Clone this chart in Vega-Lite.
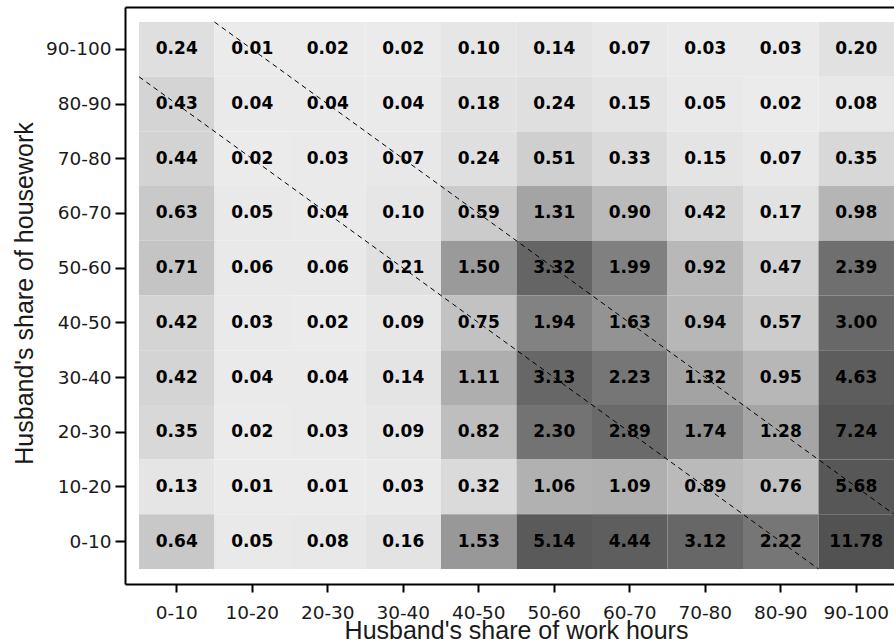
{
  "$schema": "https://vega.github.io/schema/vega-lite/v6.json",
  "autosize": "none",
  "width": 769,
  "height": 577,
  "padding": {"left": 125, "top": 7, "right": 0, "bottom": 60},
  "background": "white",
  "config": {"view": {"stroke": null}},
  "datasets": {
    "cells": [
      {"work": "0-10", "house": "90-100", "v": 0.24}, {"work": "10-20", "house": "90-100", "v": 0.01}, {"work": "20-30", "house": "90-100", "v": 0.02}, {"work": "30-40", "house": "90-100", "v": 0.02}, {"work": "40-50", "house": "90-100", "v": 0.10}, {"work": "50-60", "house": "90-100", "v": 0.14}, {"work": "60-70", "house": "90-100", "v": 0.07}, {"work": "70-80", "house": "90-100", "v": 0.03}, {"work": "80-90", "house": "90-100", "v": 0.03}, {"work": "90-100", "house": "90-100", "v": 0.20},
      {"work": "0-10", "house": "80-90", "v": 0.43}, {"work": "10-20", "house": "80-90", "v": 0.04}, {"work": "20-30", "house": "80-90", "v": 0.04}, {"work": "30-40", "house": "80-90", "v": 0.04}, {"work": "40-50", "house": "80-90", "v": 0.18}, {"work": "50-60", "house": "80-90", "v": 0.24}, {"work": "60-70", "house": "80-90", "v": 0.15}, {"work": "70-80", "house": "80-90", "v": 0.05}, {"work": "80-90", "house": "80-90", "v": 0.02}, {"work": "90-100", "house": "80-90", "v": 0.08},
      {"work": "0-10", "house": "70-80", "v": 0.44}, {"work": "10-20", "house": "70-80", "v": 0.02}, {"work": "20-30", "house": "70-80", "v": 0.03}, {"work": "30-40", "house": "70-80", "v": 0.07}, {"work": "40-50", "house": "70-80", "v": 0.24}, {"work": "50-60", "house": "70-80", "v": 0.51}, {"work": "60-70", "house": "70-80", "v": 0.33}, {"work": "70-80", "house": "70-80", "v": 0.15}, {"work": "80-90", "house": "70-80", "v": 0.07}, {"work": "90-100", "house": "70-80", "v": 0.35},
      {"work": "0-10", "house": "60-70", "v": 0.63}, {"work": "10-20", "house": "60-70", "v": 0.05}, {"work": "20-30", "house": "60-70", "v": 0.04}, {"work": "30-40", "house": "60-70", "v": 0.10}, {"work": "40-50", "house": "60-70", "v": 0.59}, {"work": "50-60", "house": "60-70", "v": 1.31}, {"work": "60-70", "house": "60-70", "v": 0.90}, {"work": "70-80", "house": "60-70", "v": 0.42}, {"work": "80-90", "house": "60-70", "v": 0.17}, {"work": "90-100", "house": "60-70", "v": 0.98},
      {"work": "0-10", "house": "50-60", "v": 0.71}, {"work": "10-20", "house": "50-60", "v": 0.06}, {"work": "20-30", "house": "50-60", "v": 0.06}, {"work": "30-40", "house": "50-60", "v": 0.21}, {"work": "40-50", "house": "50-60", "v": 1.50}, {"work": "50-60", "house": "50-60", "v": 3.32}, {"work": "60-70", "house": "50-60", "v": 1.99}, {"work": "70-80", "house": "50-60", "v": 0.92}, {"work": "80-90", "house": "50-60", "v": 0.47}, {"work": "90-100", "house": "50-60", "v": 2.39},
      {"work": "0-10", "house": "40-50", "v": 0.42}, {"work": "10-20", "house": "40-50", "v": 0.03}, {"work": "20-30", "house": "40-50", "v": 0.02}, {"work": "30-40", "house": "40-50", "v": 0.09}, {"work": "40-50", "house": "40-50", "v": 0.75}, {"work": "50-60", "house": "40-50", "v": 1.94}, {"work": "60-70", "house": "40-50", "v": 1.63}, {"work": "70-80", "house": "40-50", "v": 0.94}, {"work": "80-90", "house": "40-50", "v": 0.57}, {"work": "90-100", "house": "40-50", "v": 3.00},
      {"work": "0-10", "house": "30-40", "v": 0.42}, {"work": "10-20", "house": "30-40", "v": 0.04}, {"work": "20-30", "house": "30-40", "v": 0.04}, {"work": "30-40", "house": "30-40", "v": 0.14}, {"work": "40-50", "house": "30-40", "v": 1.11}, {"work": "50-60", "house": "30-40", "v": 3.13}, {"work": "60-70", "house": "30-40", "v": 2.23}, {"work": "70-80", "house": "30-40", "v": 1.32}, {"work": "80-90", "house": "30-40", "v": 0.95}, {"work": "90-100", "house": "30-40", "v": 4.63},
      {"work": "0-10", "house": "20-30", "v": 0.35}, {"work": "10-20", "house": "20-30", "v": 0.02}, {"work": "20-30", "house": "20-30", "v": 0.03}, {"work": "30-40", "house": "20-30", "v": 0.09}, {"work": "40-50", "house": "20-30", "v": 0.82}, {"work": "50-60", "house": "20-30", "v": 2.30}, {"work": "60-70", "house": "20-30", "v": 2.89}, {"work": "70-80", "house": "20-30", "v": 1.74}, {"work": "80-90", "house": "20-30", "v": 1.28}, {"work": "90-100", "house": "20-30", "v": 7.24},
      {"work": "0-10", "house": "10-20", "v": 0.13}, {"work": "10-20", "house": "10-20", "v": 0.01}, {"work": "20-30", "house": "10-20", "v": 0.01}, {"work": "30-40", "house": "10-20", "v": 0.03}, {"work": "40-50", "house": "10-20", "v": 0.32}, {"work": "50-60", "house": "10-20", "v": 1.06}, {"work": "60-70", "house": "10-20", "v": 1.09}, {"work": "70-80", "house": "10-20", "v": 0.89}, {"work": "80-90", "house": "10-20", "v": 0.76}, {"work": "90-100", "house": "10-20", "v": 5.68},
      {"work": "0-10", "house": "0-10", "v": 0.64}, {"work": "10-20", "house": "0-10", "v": 0.05}, {"work": "20-30", "house": "0-10", "v": 0.08}, {"work": "30-40", "house": "0-10", "v": 0.16}, {"work": "40-50", "house": "0-10", "v": 1.53}, {"work": "50-60", "house": "0-10", "v": 5.14}, {"work": "60-70", "house": "0-10", "v": 4.44}, {"work": "70-80", "house": "0-10", "v": 3.12}, {"work": "80-90", "house": "0-10", "v": 2.22}, {"work": "90-100", "house": "0-10", "v": 11.78}
    ],
    "diag": [
      {"line": "A", "px": 0, "py": 90},
      {"line": "A", "px": 90, "py": 0},
      {"line": "B", "px": 10, "py": 100},
      {"line": "B", "px": 100, "py": 10}
    ]
  },
  "layer": [
    {
      "data": {"name": "cells"},
      "encoding": {
        "x": {
          "field": "work", "type": "ordinal",
          "scale": {"domain": ["0-10","10-20","20-30","30-40","40-50","50-60","60-70","70-80","80-90","90-100"], "paddingInner": 0, "paddingOuter": 0.09272, "align": 1},
          "axis": {
            "title": "Husband's share of work hours", "labelAngle": 0,
            "domainColor": "black", "domainWidth": 2, "tickColor": "black", "tickWidth": 2, "tickSize": 8,
            "labelFont": "DejaVu Sans", "labelFontSize": 18.5, "labelColor": "#1a1a1a", "labelPadding": 11,
            "titleFont": "Liberation Sans", "titleFontSize": 25, "titleFontWeight": "normal", "titleColor": "#1a1a1a",
            "titleBaseline": "alphabetic", "titleX": 391, "titleY": 54
          }
        },
        "y": {
          "field": "house", "type": "ordinal",
          "scale": {"domain": ["90-100","80-90","70-80","60-70","50-60","40-50","30-40","20-30","10-20","0-10"], "paddingInner": 0, "paddingOuter": 0.275},
          "axis": {
            "title": "Husband's share of housework",
            "domainColor": "black", "domainWidth": 2, "tickColor": "black", "tickWidth": 2, "tickSize": 10,
            "labelFont": "DejaVu Sans", "labelFontSize": 18.5, "labelColor": "#1a1a1a", "labelPadding": 4,
            "titleFont": "Liberation Sans", "titleFontSize": 25, "titleFontWeight": "normal", "titleColor": "#1a1a1a",
            "titleBaseline": "alphabetic", "titleX": -93, "titleY": 286
          }
        }
      },
      "layer": [
        {
          "mark": {"type": "rect", "clip": true},
          "encoding": {
            "color": {
              "field": "v", "type": "quantitative",
              "scale": {"type": "linear", "domain": [0, 1, 2, 2.4, 3.3, 5.7, 12], "range": ["#ececec", "#b4b4b4", "#7f7f7f", "#6f6f6f", "#656565", "#575757", "#525252"], "interpolate": "rgb"},
              "legend": null
            }
          }
        },
        {
          "mark": {"type": "text", "font": "DejaVu Sans", "fontWeight": "bold", "fontSize": 17, "color": "black", "baseline": "middle", "align": "center", "clip": true},
          "encoding": {"text": {"field": "v", "type": "quantitative", "format": ".2f"}}
        }
      ]
    },
    {
      "data": {"name": "diag"},
      "mark": {"type": "line", "color": "black", "strokeWidth": 1, "strokeDash": [5, 4], "clip": true},
      "encoding": {
        "x": {"field": "px", "type": "quantitative", "scale": {"domain": [-1.8543, 100], "nice": false, "zero": false},
          "axis": {"orient": "top", "labels": false, "ticks": false, "grid": false, "title": null, "domainColor": "black", "domainWidth": 2}},
        "y": {"field": "py", "type": "quantitative", "scale": {"domain": [-2.75, 102.75], "nice": false, "zero": false}, "axis": null},
        "detail": {"field": "line", "type": "nominal"}
      }
    }
  ],
  "resolve": {"scale": {"x": "independent", "y": "independent"}, "axis": {"x": "independent", "y": "independent"}}
}
